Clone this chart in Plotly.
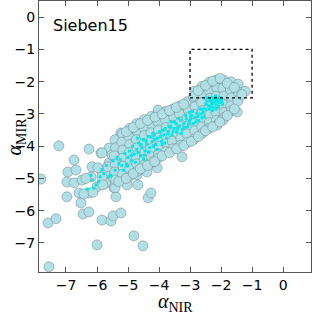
import plotly.graph_objects as go

# Large circles (alpha_NIR, alpha_MIR)
circ_x = [
    -7.23, -6.74, -6.26, -5.87, -5.61, -5.23, -5.29, -6.94, -6.68, -6.97, -6.74, -6.48, -6.19, -6.16, -5.87,
    -5.61, -5.45, -5.13, -7.81, -6.97, -6.58, -6.26, -6.00, -5.71, -5.45, -5.39, -6.52, -5.19, -5.71,
    -7.58, -7.32, -7.55, -6.45, -6.26, -6.00, -5.84, -5.55, -5.48, -5.23, -4.81, -4.52, -4.35, -4.26, -3.26,
    -6.42, -6.13, -6.36,
    -5.84, -5.52, -5.19, -4.87, -4.55, -4.19, -3.97, -5.97, -5.65, -5.32, -5.00, -4.68, -4.35, -5.84, -5.48,
    -5.10, -4.71, -4.39, -4.06, -5.81, -5.42, -5.03, -4.68,
    -5.42, -5.40, -5.44, -5.41, -5.43, -5.40,
    -5.18, -5.20, -5.17, -5.19, -5.16, -5.18,
    -4.95, -4.97, -4.94, -4.96, -4.93, -4.95, -4.97,
    -4.72, -4.70, -4.73, -4.71, -4.74, -4.72, -4.70,
    -4.48, -4.50, -4.47, -4.49, -4.46, -4.48, -4.50,
    -4.25, -4.23, -4.26, -4.24, -4.27, -4.25, -4.23,
    -4.02, -4.04, -4.01, -4.03, -4.00, -4.02, -4.04,
    -3.78, -3.80, -3.77, -3.79, -3.76, -3.78,
    -3.55, -3.53, -3.56, -3.54, -3.57, -3.55,
    -3.32, -3.34, -3.31, -3.33, -3.30, -3.32,
    -3.08, -3.06, -3.09, -3.07, -3.10, -3.08,
    -2.85, -2.87, -2.84, -2.86, -2.83, -2.85, -2.87,
    -2.62, -2.60, -2.63, -2.61, -2.64, -2.62, -2.60,
    -2.38, -2.40, -2.37, -2.39, -2.36, -2.38, -2.40,
    -2.15, -2.13, -2.16, -2.14, -2.17, -2.15, -2.13,
    -1.92, -1.94, -1.91, -1.93, -1.90, -1.92,
    -1.68, -1.70, -1.67, -1.69, -1.66,
    -1.45, -1.43, -1.46,
    -1.22, -1.48, -1.94, -4.03,
    -5.05, -4.83, -4.60, -4.37, -4.13, -3.90, -3.66, -3.44, -3.20, -2.88, -2.74, -2.50, -2.27, -2.03, -1.80,
    -1.57, -1.33,
    -5.30, -5.06, -4.83, -4.60, -4.37, -4.14, -3.90, -3.66, -3.43, -3.20, -2.96, -2.73, -2.50, -2.27, -2.04,
    -1.80, -1.57,
]
circ_y = [
    -3.99, -4.43, -4.09, -4.21, -4.06, -3.59, -4.21, -4.80, -4.74, -5.11, -5.14, -5.05, -4.95, -4.64, -4.74,
    -4.52, -4.33, -4.43, -5.02, -5.57, -5.45, -5.45, -5.26, -5.14, -5.29, -5.57, -5.76, -4.95, -4.83,
    -6.38, -6.25, -7.74, -6.10, -6.04, -7.06, -6.29, -6.32, -6.16, -6.07, -6.78, -7.09, -5.60, -5.45, -4.33,
    -5.48, -5.43, -5.00,
    -4.21, -4.27, -4.21, -4.21, -4.27, -4.21, -4.21, -4.67, -4.64, -4.58, -4.52, -4.52, -4.49, -4.95, -4.98,
    -5.05, -4.89, -4.80, -4.67, -5.20, -5.29, -5.20, -5.20,
    -3.80, -4.05, -4.30, -4.55, -4.80, -5.05,
    -3.62, -3.88, -4.12, -4.38, -4.62, -4.88,
    -3.45, -3.70, -3.95, -4.20, -4.45, -4.70, -4.95,
    -3.30, -3.55, -3.80, -4.05, -4.30, -4.55, -4.78,
    -3.18, -3.42, -3.67, -3.92, -4.17, -4.42, -4.60,
    -3.08, -3.33, -3.58, -3.83, -4.08, -4.33, -4.50,
    -2.95, -3.25, -3.50, -3.75, -4.00, -4.25, -4.38,
    -2.92, -3.17, -3.42, -3.67, -3.92, -4.17,
    -2.85, -3.10, -3.35, -3.60, -3.85, -4.08,
    -2.75, -3.00, -3.25, -3.50, -3.75, -3.98,
    -2.62, -2.87, -3.12, -3.37, -3.62, -3.88,
    -2.30, -2.52, -2.77, -3.02, -3.27, -3.52, -3.78,
    -2.15, -2.40, -2.65, -2.90, -3.15, -3.40, -3.60,
    -2.02, -2.27, -2.52, -2.77, -3.02, -3.27, -3.45,
    -1.95, -2.20, -2.45, -2.70, -2.95, -3.20, -3.35,
    -1.95, -2.20, -2.45, -2.70, -2.95, -3.12,
    -2.00, -2.25, -2.50, -2.75, -2.90,
    -2.08, -2.33, -2.60,
    -2.30, -2.94, -3.19, -2.88,
    -3.55, -3.42, -3.30, -3.20, -3.10, -3.00, -2.90, -2.80, -2.70, -2.45, -2.28, -2.12, -1.98, -1.90, -2.05,
    -2.18, -2.40,
    -5.10, -5.00, -4.85, -4.70, -4.60, -4.48, -4.30, -4.20, -4.08, -3.98, -3.85, -3.70, -3.52, -3.40, -3.25,
    -3.05, -2.85,
]

# Small cyan points
dot_x = [
    -6.32, -6.15, -6.03, -5.90, -5.84, -5.55, -5.48, -5.35, -5.20, -5.10, -5.30, -5.00, -4.95, -4.90, -4.85,
    -4.80, -4.72, -4.65, -4.60, -4.55, -4.50, -4.45, -4.40, -4.35, -4.30, -4.22, -4.15, -4.10, -4.05, -3.98,
    -3.92, -3.85, -3.80, -3.75, -3.70, -3.62, -3.58, -3.52, -3.45, -3.42, -3.35, -3.30, -3.25, -3.20, -3.12,
    -3.08, -3.02, -2.95, -2.90, -2.85, -2.78, -2.72, -2.65, -2.60, -2.55,
    -2.45, -2.40, -2.35, -2.30, -2.25, -2.20, -2.15, -2.10, -2.05, -2.00, -1.95, -2.28, -2.18, -2.38,
    -4.70, -4.20, -3.60, -3.00, -3.90, -4.50, -5.05,
    -5.42, -5.25, -5.15, -5.02, -4.88, -4.76, -4.68, -4.58, -4.48, -4.42, -4.33, -4.26, -4.18, -4.12, -4.06,
    -3.95, -3.88, -3.82, -3.72, -3.66, -3.55, -3.50, -3.40, -3.36, -3.28, -3.18, -3.14, -3.05, -2.98, -2.92,
    -2.82, -2.75, -2.68, -2.62, -2.58,
    -2.48, -2.44, -2.33, -2.32, -2.22, -2.24, -2.12, -2.08, -2.02, -1.98, -2.27, -2.16, -2.50,
    -6.10, -5.95, -5.70, -5.62, -5.78, -6.20,
]
dot_y = [
    -5.33, -5.05, -5.20, -4.95, -4.72, -4.90, -4.45, -4.35, -4.60, -4.22, -4.55, -4.35, -4.15, -4.45, -4.00,
    -4.25, -4.10, -3.90, -4.30, -4.05, -3.80, -4.15, -3.95, -3.70, -4.05, -3.85, -3.65, -3.95, -3.75, -3.55,
    -3.85, -3.65, -3.45, -3.75, -3.55, -3.40, -3.65, -3.45, -3.30, -3.55, -3.38, -3.20, -3.48, -3.30, -3.15,
    -3.40, -3.22, -3.05, -3.30, -3.12, -2.98, -3.20, -3.00, -2.85, -3.10,
    -2.60, -2.75, -2.55, -2.68, -2.80, -2.60, -2.72, -2.52, -2.65, -2.58, -2.70, -2.50, -2.45, -2.85,
    -3.75, -3.60, -3.25, -2.95, -3.95, -4.40, -4.55,
    -4.75, -4.42, -4.75, -4.62, -4.28, -4.50, -4.20, -3.95, -4.28, -3.85, -4.18, -3.72, -4.00, -3.78, -4.10,
    -3.70, -3.50, -3.90, -3.62, -3.38, -3.55, -3.25, -3.45, -3.15, -3.60, -3.42, -3.05, -3.32, -3.15, -2.92,
    -3.25, -3.08, -2.85, -3.12, -2.95,
    -2.70, -2.50, -2.62, -2.78, -2.68, -2.55, -2.60, -2.78, -2.50, -2.62, -2.90, -2.85, -2.85,
    -5.30, -5.10, -4.60, -4.95, -4.85, -4.90,
]

x_ticks = [-7, -6, -5, -4, -3, -2, -1, 0]
y_ticks = [-7, -6, -5, -4, -3, -2, -1, 0]
box_x = [-3, -1]
box_y = [-2.5, -1]
label_text = "Sieben15"

fig = go.Figure()
fig.add_trace(go.Scatter(
    x=circ_x, y=circ_y, mode="markers",
    marker=dict(size=10, color="#b0e0e6", line=dict(color="rgba(110,130,135,0.85)", width=0.6)),
    hoverinfo="skip", showlegend=False,
))
fig.add_trace(go.Scatter(
    x=dot_x, y=dot_y, mode="markers",
    marker=dict(size=3, symbol="square", color="#00e8e8", line=dict(width=0)),
    hoverinfo="skip", showlegend=False,
))
fig.add_shape(type="rect", x0=box_x[0], x1=box_x[1], y0=box_y[0], y1=box_y[1],
              line=dict(color="black", width=1.3, dash="dot"), fillcolor="rgba(0,0,0,0)")

fig.add_annotation(x=-7.48, y=-0.27, xref="x", yref="y", text=label_text, showarrow=False,
                   xanchor="left", yanchor="middle", font=dict(family="DejaVu Sans", size=16, color="black"))
fig.add_annotation(x=0.5, y=-0.058, xref="paper", yref="paper", text="<i>α</i><sub>NIR</sub>",
                   showarrow=False, xanchor="center", yanchor="top",
                   font=dict(family="Liberation Serif", size=20, color="black"))
fig.add_annotation(x=-0.085, y=0.5, xref="paper", yref="paper", text="<i>α</i><sub>MIR</sub>",
                   showarrow=False, xanchor="center", yanchor="middle", textangle=-90,
                   font=dict(family="Liberation Serif", size=20, color="black"))

axis_common = dict(showgrid=False, zeroline=False, showline=True, linecolor="#555", linewidth=1,
                   mirror="ticks", ticks="inside", ticklen=5, tickcolor="#555",
                   tickfont=dict(family="DejaVu Sans", size=14, color="black"))
fig.update_xaxes(range=[-7.87, 0.9], tickvals=x_ticks, **axis_common)
fig.update_yaxes(range=[-7.9, 0.5], tickvals=y_ticks, **axis_common)
fig.update_layout(width=312, height=312, margin=dict(l=39, r=1, t=1, b=40),
                  plot_bgcolor="white", paper_bgcolor="white")
fig.write_html("out.html", config={"displayModeBar": False},
               post_script="document.body.style.margin='0';document.body.style.padding='0';")
